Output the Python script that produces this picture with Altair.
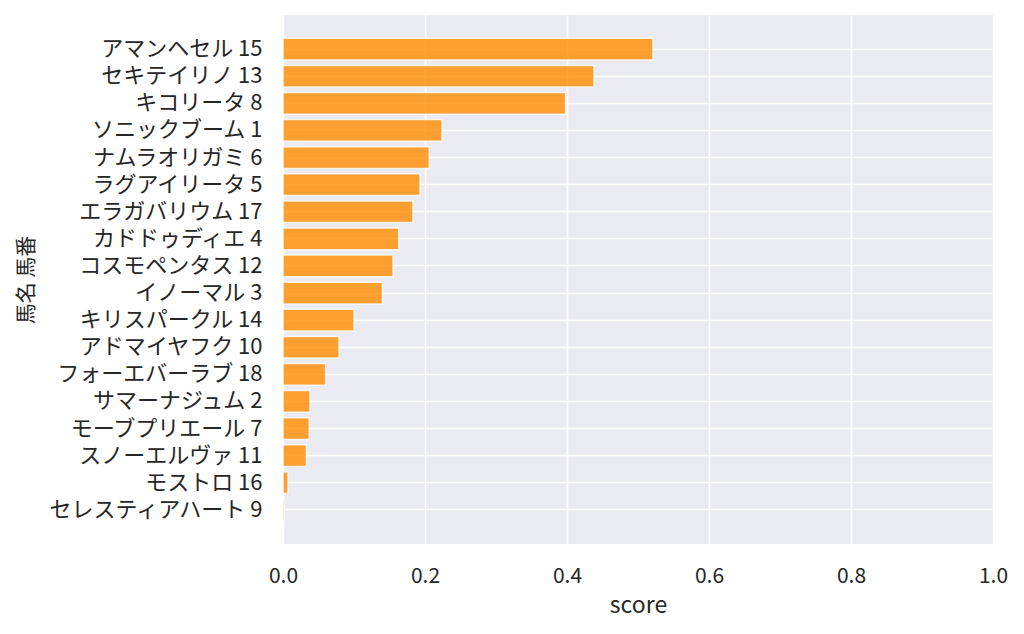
import altair as alt
import pandas as pd

names = ["アマンヘセル 15", "セキテイリノ 13", "キコリータ 8", "ソニックブーム 1", "ナムラオリガミ 6",
         "ラグアイリータ 5", "エラガバリウム 17", "カドドゥディエ 4", "コスモペンタス 12", "イノーマル 3",
         "キリスパークル 14", "アドマイヤフク 10", "フォーエバーラブ 18", "サマーナジュム 2",
         "モーブプリエール 7", "スノーエルヴァ 11", "モストロ 16", "セレスティアハート 9"]
scores = [0.521, 0.438, 0.398, 0.224, 0.206, 0.193, 0.183, 0.163, 0.155, 0.140,
          0.100, 0.079, 0.060, 0.038, 0.037, 0.033, 0.007, 0.002]

df = pd.DataFrame({"馬名 馬番": names, "score": scores})

FONT = "Noto Sans CJK JP"
TXT = "#262626"

chart = alt.Chart(df).mark_bar(
    color="#FF8C00", fillOpacity=0.8, stroke="white", strokeOpacity=0.8, strokeWidth=1.5
).encode(
    x=alt.X("score:Q", scale=alt.Scale(domain=[0, 1], nice=False),
            axis=alt.Axis(values=[0, 0.2, 0.4, 0.6, 0.8, 1.0], format=".1f", ticks=False, domain=False,
                          grid=True, gridColor="white", gridWidth=1.6, labelFlush=False,
                          labelFont=FONT, labelFontSize=21, labelColor=TXT, labelPadding=21,
                          title="score", titleFont=FONT, titleFontSize=23, titleFontWeight="normal",
                          titleColor=TXT, titlePadding=8)),
    y=alt.Y("馬名 馬番:N", sort=names,
            scale=alt.Scale(paddingInner=0.2, paddingOuter=0.86),
            axis=alt.Axis(ticks=False, domain=False, grid=True, gridColor="white", gridWidth=1.6,
                          bandPosition=0.5, labelLimit=500,
                          labelFont=FONT, labelFontSize=22, labelColor=TXT, labelPadding=21,
                          title="馬名 馬番", titleFont=FONT, titleFontSize=21, titleFontWeight="normal",
                          titleColor=TXT, titleX=-257, titleY=264.5, titleAngle=270,
                          titleAlign="center", titleBaseline="middle")),
).properties(
    width=710, height=529,
    autosize=alt.AutoSizeParams(type="none"),
    padding={"left": 275, "top": 7, "right": 23, "bottom": 82},
).configure_view(
    fill="#EAEAF2", stroke=None
)

chart.save("out.html", embed_options={"renderer": "svg", "actions": False})
